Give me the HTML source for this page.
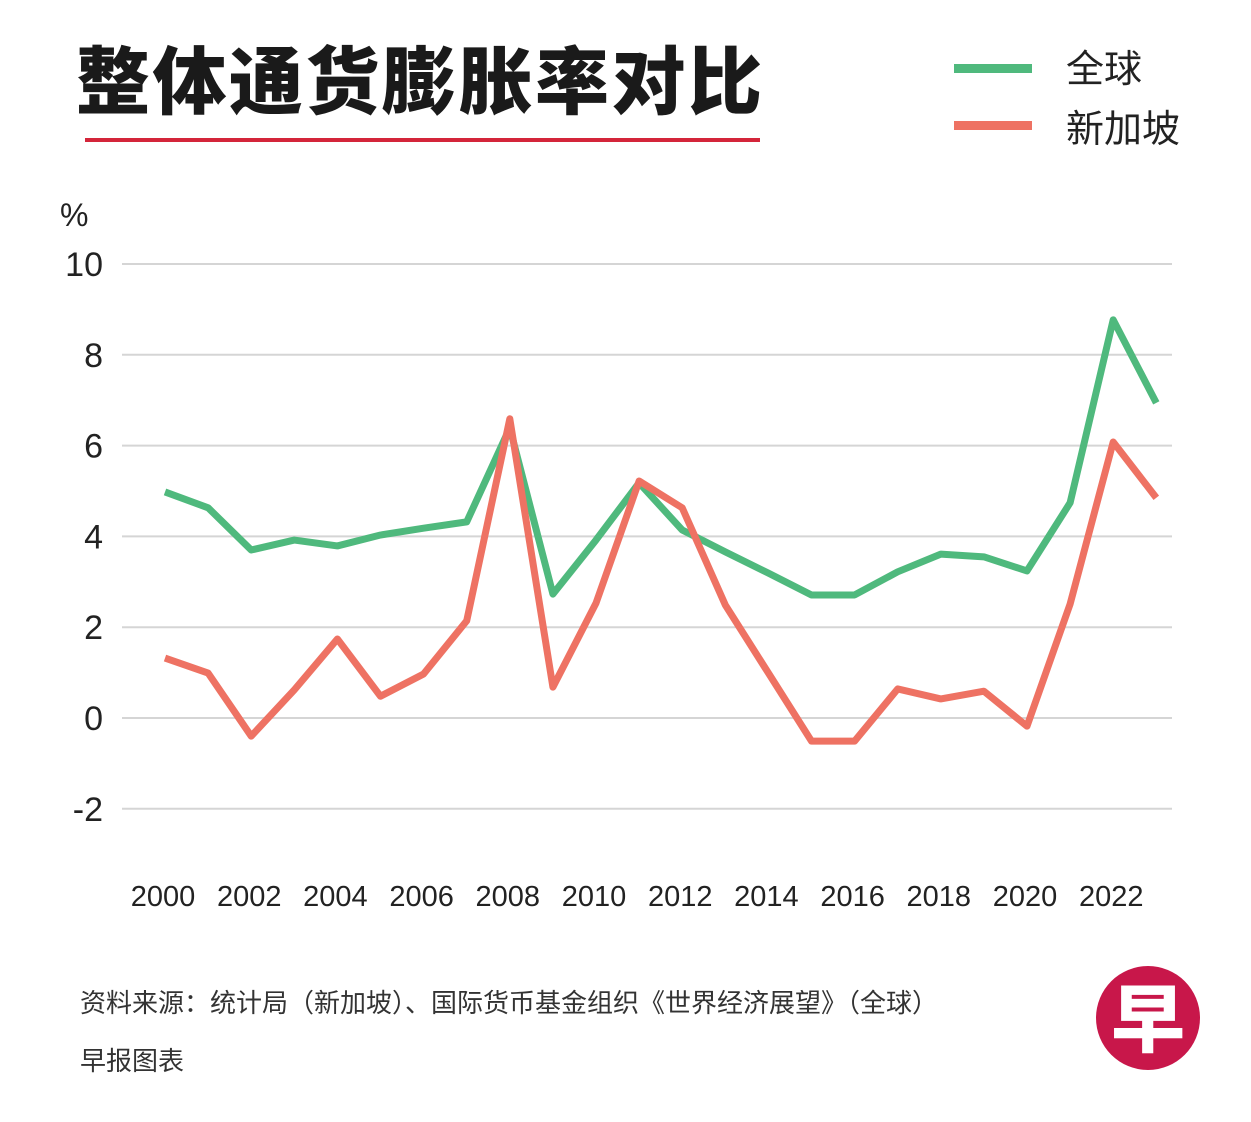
<!DOCTYPE html>
<html><head><meta charset="utf-8"><style>
body{margin:0;width:1251px;height:1122px;background:#fff;overflow:hidden;font-family:"Liberation Sans","Noto Sans CJK SC",sans-serif}
svg{position:absolute;left:0;top:0}
</style></head><body>
<svg width="1251" height="1122">
<text x="76" y="108" font-size="74" font-weight="900" fill="#1a1a1a" letter-spacing="2.5" font-family="Noto Sans CJK SC, sans-serif">整体通货膨胀率对比</text>
<rect x="85" y="138" width="675" height="4" fill="#d4253a"/>
<g>
<rect x="954" y="64" width="78" height="9" fill="#4fb97d"/>
<text x="1066" y="82" font-size="38" fill="#222" font-family="Noto Sans CJK SC, sans-serif">全球</text>
<rect x="954" y="121" width="78" height="9" fill="#ee7263"/>
<text x="1066" y="142" font-size="38" fill="#222" font-family="Noto Sans CJK SC, sans-serif">新加坡</text>
</g>
<text x="60" y="226" font-size="32" fill="#222">%</text>
<g id="grid"></g><g id="xt"></g><g id="lines"></g>
<text x="80" y="1012" font-size="26" fill="#333" font-family="Noto Sans CJK SC, sans-serif">资料来源：统计局（新加坡）、国际货币基金组织《世界经济展望》（全球）</text>
<text x="80" y="1070" font-size="26" fill="#333" font-family="Noto Sans CJK SC, sans-serif">早报图表</text>
<g>
<circle cx="1148" cy="1018" r="52" fill="#c8174a"/>
<text x="1148" y="1046" font-size="74" font-weight="900" fill="#fff" text-anchor="middle" font-family="Noto Sans CJK SC, sans-serif">早</text>
</g>
</svg>
<script>
const years=[2000,2001,2002,2003,2004,2005,2006,2007,2008,2009,2010,2011,2012,2013,2014,2015,2016,2017,2018,2019,2020,2021,2022,2023];
const globalVals=[4.98,4.63,3.70,3.92,3.79,4.03,4.18,4.32,6.39,2.73,3.92,5.18,4.14,3.66,3.19,2.71,2.71,3.22,3.61,3.55,3.24,4.74,8.77,6.94];
const sgVals=[1.32,0.99,-0.40,0.62,1.74,0.48,0.97,2.14,6.59,0.68,2.53,5.22,4.63,2.49,0.99,-0.51,-0.51,0.64,0.42,0.59,-0.18,2.51,6.08,4.85];
const yTicks=[-2,0,2,4,6,8,10];
const xTickLabels=[2000,2002,2004,2006,2008,2010,2012,2014,2016,2018,2020,2022];
const NS="http://www.w3.org/2000/svg";
const X=y=>165+(y-2000)*43.1;
const Y=v=>718-v*45.4;
function mk(tag,attrs,parent){const e=document.createElementNS(NS,tag);for(const k in attrs)e.setAttribute(k,attrs[k]);parent.appendChild(e);return e;}
const grid=document.getElementById('grid');
yTicks.forEach(t=>{
 const l=mk('line',{x1:122,x2:1172,y1:Y(t),y2:Y(t),stroke:'#d5d5d5','stroke-width':2},grid);
 
 
 const tx=mk('text',{x:103,y:Y(t)+12,'font-size':34,fill:'#222','text-anchor':'end'},grid);
 tx.textContent=t;
 
 
});
const xt=document.getElementById('xt');
xTickLabels.forEach(t=>{
 const tx=mk('text',{x:X(t)-2,y:906,'font-size':29,fill:'#222','text-anchor':'middle'},xt);
 tx.textContent=t;
 
 
});
const lines=document.getElementById('lines');
function series(vals,color,name){
 const p=mk('polyline',{points:vals.map((v,i)=>X(years[i])+','+Y(v)).join(' '),fill:'none',stroke:color,'stroke-width':7,'stroke-linejoin':'round'},lines);
 
 
}
series(globalVals,'#4fb97d','line-global');
series(sgVals,'#ee7263','line-singapore');
</script>
</body></html>
